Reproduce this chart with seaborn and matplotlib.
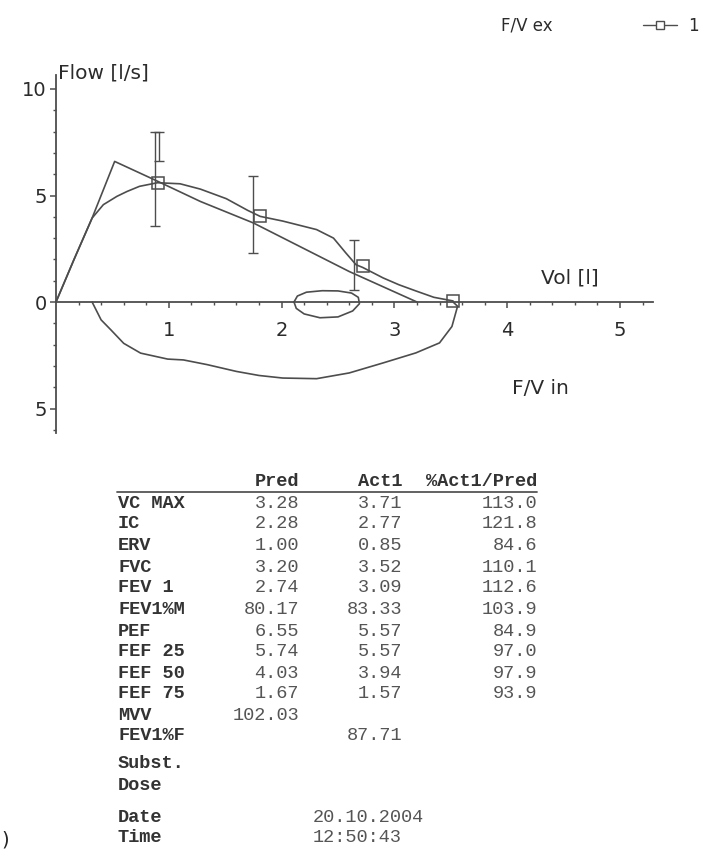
import numpy as np
import pandas as pd
import matplotlib
matplotlib.use("Agg")
import matplotlib.pyplot as plt
import seaborn as sns
from matplotlib.lines import Line2D
from matplotlib.ticker import FixedLocator

W, H = 709, 852
INK = "#4d4d4d"
TXT = "#333333"

# flow/volume curves (volume in l, flow in l/s)
act_vol = [0.0, 0.16, 0.32, 0.42, 0.54, 0.63, 0.74, 0.90, 1.10, 1.28, 1.51, 1.70,
           1.81, 2.01, 2.31, 2.46, 2.57, 2.66, 2.72, 2.90, 3.04, 3.19, 3.35, 3.52]
act_flow = [0.0, 2.00, 3.94, 4.57, 4.96, 5.19, 5.43, 5.60, 5.55, 5.30, 4.85, 4.30,
            4.02, 3.80, 3.40, 3.00, 2.30, 1.75, 1.62, 1.13, 0.81, 0.52, 0.22, 0.05]
pred_vol = [0.0, 0.16, 0.32, 0.52, 0.88, 1.28, 1.75, 2.16, 2.60, 3.20]
pred_flow = [0.0, 2.00, 3.94, 6.60, 5.72, 4.72, 3.71, 2.61, 1.43, 0.0]
insp_vol = [3.52, 3.56, 3.51, 3.40, 3.19, 2.90, 2.60, 2.31, 2.01, 1.80, 1.60, 1.34,
            1.13, 0.99, 0.75, 0.60, 0.485, 0.40, 0.32]
insp_flow = [0.0, -0.20, -1.15, -1.92, -2.39, -2.86, -3.33, -3.60, -3.57, -3.45, -3.26,
             -2.94, -2.72, -2.68, -2.40, -1.94, -1.30, -0.84, 0.0]
tidal_vol = [2.11, 2.14, 2.22, 2.36, 2.50, 2.62, 2.68, 2.69, 2.63, 2.50, 2.34, 2.20, 2.13, 2.11]
tidal_flow = [0.0, 0.28, 0.46, 0.53, 0.52, 0.42, 0.22, -0.08, -0.42, -0.70, -0.74, -0.56, -0.30, 0.0]

# measured points (FEF25, FEF50, FEF75, FVC) and predicted ranges
mark_vol = [0.90, 1.81, 2.72, 3.52]
mark_flow = [5.60, 4.02, 1.67, 0.05]
bar_vol = [0.88, 0.91, 1.75, 2.64]
bar_lo = [3.58, 6.60, 2.30, 0.58]
bar_hi = [7.98, 7.98, 5.90, 2.89]

# result table
row_names = ["VC MAX", "IC", "ERV", "FVC", "FEV 1", "FEV1%M", "PEF",
             "FEF 25", "FEF 50", "FEF 75", "MVV", "FEV1%F"]
pred_vals = [3.28, 2.28, 1.00, 3.20, 2.74, 80.17, 6.55, 5.74, 4.03, 1.67, 102.03, None]
act_vals = [3.71, 2.77, 0.85, 3.52, 3.09, 83.33, 5.57, 5.57, 3.94, 1.57, None, 87.71]
pct_vals = [113.0, 121.8, 84.6, 110.1, 112.6, 103.9, 84.9, 97.0, 97.9, 93.9, None, None]
extra_names = ["Subst.", "Dose"]
meta_names = ["Date", "Time"]
meta_vals = ["20.10.2004", "12:50:43"]

sns.set_theme(style="white")
plt.rcParams["font.family"] = ["DejaVu Sans"]

# pixel mapping of the plot (origin, pixels per unit)
X0, XU = 56.0, 112.8
Y0, YU = 302.0, 21.3
xlim = (-0.4, 5.75)
ylim = (-7.0, 12.0)

fig = plt.figure(figsize=(W / 100, H / 100), dpi=100)
fig.patch.set_facecolor("white")
left = X0 + xlim[0] * XU
right = X0 + xlim[1] * XU
top = Y0 - ylim[1] * YU
bottom = Y0 - ylim[0] * YU
ax = fig.add_axes([left / W, 1 - bottom / H, (right - left) / W, (bottom - top) / H])
ax.set_xlim(*xlim)
ax.set_ylim(*ylim)
ax.patch.set_alpha(0)


def fx(px):
    return px / W


def fy(py):
    return 1 - py / H


lw = 1.2
sns.lineplot(x=pred_vol, y=pred_flow, sort=False, estimator=None, color=INK, lw=lw, ax=ax)
sns.lineplot(x=act_vol, y=act_flow, sort=False, estimator=None, color=INK, lw=lw, ax=ax)
sns.lineplot(x=insp_vol, y=insp_flow, sort=False, estimator=None, color=INK, lw=lw, ax=ax)
sns.lineplot(x=tidal_vol, y=tidal_flow, sort=False, estimator=None, color=INK, lw=lw, ax=ax)

lo = np.array(bar_lo)
hi = np.array(bar_hi)
mid = (lo + hi) / 2
ax.errorbar(bar_vol, mid, yerr=(hi - lo) / 2, fmt="none", ecolor=INK, elinewidth=1.0,
            capsize=3.5, capthick=1.0)

ax.plot(mark_vol, mark_flow, ls="none", marker="s", ms=8, mfc="none", mec=INK, mew=1.1)

# axes through the origin
for s in ["top", "right"]:
    ax.spines[s].set_visible(False)
ax.spines["left"].set_position(("data", 0))
ax.spines["bottom"].set_position(("data", 0))
ax.spines["left"].set_bounds(-6.16, 10.66)
ax.spines["bottom"].set_bounds(0, 5.29)
for s in ["left", "bottom"]:
    ax.spines[s].set_color(INK)
    ax.spines[s].set_linewidth(1.3)

ax.xaxis.set_major_locator(FixedLocator([1, 2, 3, 4, 5]))
ax.xaxis.set_minor_locator(FixedLocator(np.arange(0.2, 5.3, 0.2)))
ax.yaxis.set_major_locator(FixedLocator([-5, 0, 5, 10]))
ax.yaxis.set_minor_locator(FixedLocator(np.arange(-6, 11, 1)))
ax.set_yticklabels(["5", "0", "5", "10"])
ax.tick_params(axis="both", which="major", direction="out", length=4.5, width=1.1,
               color=INK, labelsize=14, labelcolor="#2b2b2b")
ax.tick_params(axis="both", which="minor", direction="out", length=2.2, width=1.0, color=INK)
ax.tick_params(axis="x", which="major", pad=9)
ax.tick_params(axis="y", which="major", pad=2)
ax.tick_params(left=True, bottom=True, which="both")

fig.text(fx(58), fy(73), "Flow [l/s]", fontsize=14.5, color="#2b2b2b", ha="left", va="center")
fig.text(fx(570), fy(278), "Vol [l]", fontsize=14.5, color="#2b2b2b", ha="center", va="center")
fig.text(fx(540), fy(388), "F/V in", fontsize=14.5, color="#2b2b2b", ha="center", va="center")

# legend at the top right
fig.text(fx(527), fy(25), "F/V ex", fontsize=12, color="#2b2b2b", ha="center", va="center")
fig.add_artist(Line2D([fx(643), fx(677)], [fy(25), fy(25)], color=INK, lw=1.0,
                      transform=fig.transFigure))
fig.add_artist(Line2D([fx(660)], [fy(25)], color=INK, marker="s", ms=6, mfc="white",
                      mec=INK, mew=1.0, transform=fig.transFigure))
fig.text(fx(693), fy(26), "1", fontsize=12, color="#2b2b2b", ha="center", va="center")

# result table
mono = dict(family="Liberation Mono", fontsize=13.4, va="center")
fig.text(fx(299), fy(481), "Pred", ha="right", color=TXT, weight="bold", **mono)
fig.text(fx(402), fy(481), "Act1", ha="right", color=TXT, weight="bold", **mono)
fig.text(fx(537), fy(481), "%Act1/Pred", ha="right", color=TXT, weight="bold", **mono)
fig.add_artist(Line2D([fx(117), fx(537)], [fy(492), fy(492)], color="#555555", lw=1.3,
                      transform=fig.transFigure))

row_y = [503, 524, 546, 567, 587, 609, 631, 652, 673, 693, 715, 736]
tab = pd.DataFrame({"name": row_names, "pred": pred_vals, "act": act_vals, "pct": pct_vals})
for yy, r in zip(row_y, tab.itertuples()):
    fig.text(fx(118), fy(yy), r.name, ha="left", color=TXT, weight="bold", **mono)
    if pd.notna(r.pred):
        fig.text(fx(299), fy(yy), f"{r.pred:.2f}", ha="right", color="#555555", **mono)
    if pd.notna(r.act):
        fig.text(fx(402), fy(yy), f"{r.act:.2f}", ha="right", color="#555555", **mono)
    if pd.notna(r.pct):
        fig.text(fx(537), fy(yy), f"{r.pct:.1f}", ha="right", color="#555555", **mono)

for yy, name in zip([763, 785], extra_names):
    fig.text(fx(118), fy(yy), name, ha="left", color=TXT, weight="bold", **mono)
for yy, name, val in zip([817, 838], meta_names, meta_vals):
    fig.text(fx(118), fy(yy), name, ha="left", color=TXT, weight="bold", **mono)
    fig.text(fx(313), fy(yy), val, ha="left", color="#555555", **mono)

# panel letter remnant at the lower left edge
fig.text(fx(1), fy(840), ")", fontsize=14, color="#222222", ha="left", va="center")

fig.savefig("out.png", dpi=100)
